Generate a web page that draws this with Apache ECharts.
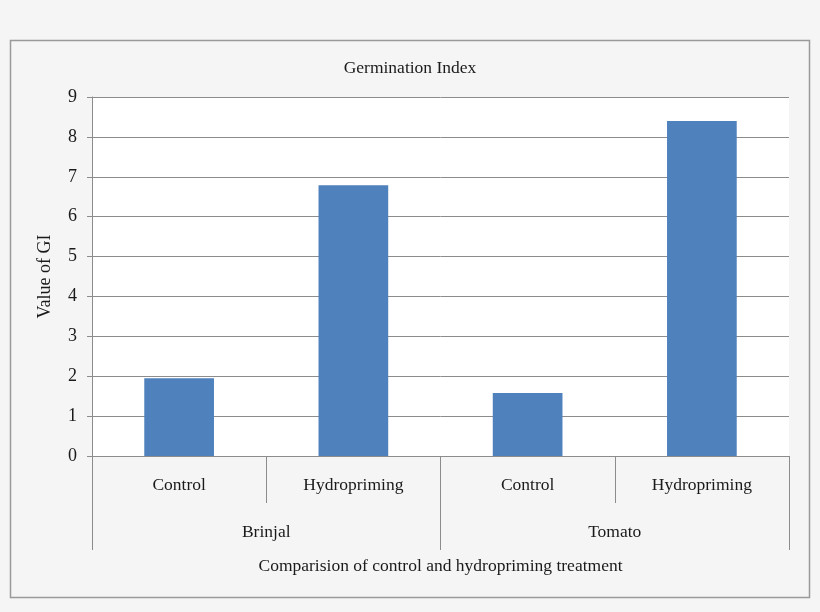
<!DOCTYPE html>
<html>
<head>
<meta charset="utf-8">
<script src="https://cdn.jsdelivr.net/npm/echarts@6/dist/echarts.min.js"></script>
<style>
html,body{margin:0;padding:0;background:#f5f5f5;}
#c{width:820px;height:612px;}
</style>
</head>
<body>
<div id="c"></div>
<script>
var categories = ['Control', 'Hydropriming', 'Control', 'Hydropriming'];
var groups = ['Brinjal', 'Tomato'];
var values = [1.95, 6.79, 1.58, 8.40];
var yTicks = [0, 1, 2, 3, 4, 5, 6, 7, 8, 9];
var titleText = 'Germination Index';
var yName = 'Value of GI';
var xName = 'Comparision of control and hydropriming treatment';

var font = 'Liberation Serif, Times New Roman, serif';
var fs = 17.5;
var txt = '#1a1a1a';
var chart = echarts.init(document.getElementById('c'), null, {renderer: 'canvas'});
chart.setOption({
  backgroundColor: '#f5f5f5',
  animation: false,
  title: {
    text: titleText, left: 'center', top: 54,
    textStyle: {fontFamily: font, fontSize: fs, fontWeight: 'normal', color: txt}
  },
  graphic: [{
    type: 'rect', shape: {x: 10.5, y: 40.5, width: 799, height: 557},
    style: {fill: 'none', stroke: '#9a9a9a', lineWidth: 1.5}, silent: true, z: -1
  }],
  grid: {left: 92, right: 31, top: 97, bottom: 156, show: true, backgroundColor: '#ffffff', borderWidth: 0},
  xAxis: [{
    type: 'category', data: categories, position: 'bottom',
    axisLine: {show: true, lineStyle: {color: '#8c8c8c', width: 1}},
    axisTick: {show: true, length: 47, alignWithLabel: false, lineStyle: {color: '#8c8c8c'}},
    axisLabel: {fontFamily: font, fontSize: fs, color: txt, margin: 20},
    splitLine: {show: false}
  }, {
    type: 'category', data: groups, position: 'bottom', offset: 47,
    axisLine: {show: false},
    axisTick: {show: true, length: 47, lineStyle: {color: '#8c8c8c'}},
    axisLabel: {fontFamily: font, fontSize: fs, color: txt, margin: 20},
    name: xName, nameLocation: 'middle', nameGap: 54,
    nameTextStyle: {fontFamily: font, fontSize: fs, color: txt}
  }],
  yAxis: {
    type: 'value', min: 0, max: 9, interval: 1,
    name: yName, nameLocation: 'middle', nameGap: 38, nameRotate: 90,
    nameTextStyle: {fontFamily: font, fontSize: 18, color: txt},
    axisLine: {show: true, lineStyle: {color: '#8c8c8c'}},
    axisTick: {show: true, inside: false, length: 5, lineStyle: {color: '#8c8c8c'}},
    axisLabel: {fontFamily: font, fontSize: 18, color: txt, margin: 15,
      formatter: function (v) { return yTicks.indexOf(v) >= 0 ? String(v) : ''; }},
    splitLine: {show: true, lineStyle: {color: '#8c8c8c', width: 1}}
  },
  series: [{
    type: 'bar', xAxisIndex: 0, data: values, barWidth: '40%',
    itemStyle: {color: '#4f81bd'}
  }]
});
</script>
</body>
</html>
